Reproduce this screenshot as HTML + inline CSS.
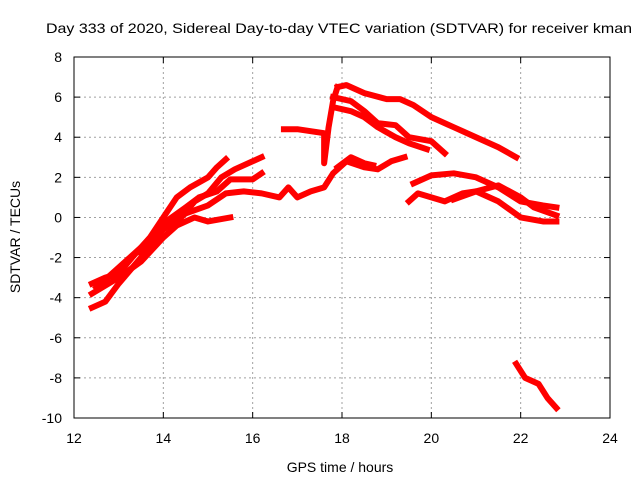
<!DOCTYPE html>
<html><head><meta charset="utf-8"><style>
body{margin:0;background:#fff}
svg text{font-family:"Liberation Sans",sans-serif;font-size:14px;fill:#000}
</style></head><body>
<svg id="c" width="640" height="480" xmlns="http://www.w3.org/2000/svg">
<rect width="640" height="480" fill="#fff"/>
<text x="339" y="33" text-anchor="middle" textLength="586" lengthAdjust="spacingAndGlyphs">Day 333 of 2020, Sidereal Day-to-day VTEC variation (SDTVAR) for receiver kman</text>
<text x="340" y="472" text-anchor="middle">GPS time / hours</text>
<text x="20" y="237" text-anchor="middle" transform="rotate(-90 20 237)">SDTVAR / TECUs</text>
<g id="grid"></g><g id="series"></g><g id="axes"></g>
</svg>
<script>
const xTicks=[12,14,16,18,20,22,24];
const yTicks=[-10,-8,-6,-4,-2,0,2,4,6,8];
const s1=[[12.4,-3.3],[12.7,-3.0],[13.0,-2.8],[13.3,-2.0],[13.7,-1.0],[14.0,0],[14.3,1.0],[14.6,1.5],[15.0,2.0],[15.2,2.5],[15.4,2.9]];
const s2=[[12.4,-4.5],[12.7,-4.2],[13.0,-3.3],[13.5,-2.0],[14.0,-0.5],[14.4,0.0],[14.7,0.8],[15.0,1.2],[15.3,2.0],[15.6,2.4],[16.0,2.8],[16.2,3.0]];
const s3=[[12.5,-3.5],[13.0,-2.5],[13.5,-1.5],[14.0,-0.3],[14.5,0.5],[14.8,1.0],[15.2,1.3],[15.5,1.9],[16.0,1.9],[16.2,2.2]];
const s4=[[12.4,-3.8],[13.0,-3.0],[13.5,-2.2],[14.0,-1.0],[14.3,-0.4],[14.7,0.0],[15.0,-0.2],[15.5,0.0]];
const s5=[[13.5,-1.8],[14.0,-0.6],[14.5,0.2],[15.0,0.6],[15.4,1.2],[15.8,1.3],[16.2,1.2],[16.6,1.0],[16.8,1.5],[17.0,1.0],[17.3,1.3],[17.6,1.5],[17.8,2.2],[18.1,2.8],[18.5,2.5],[18.8,2.4],[19.1,2.8],[19.4,3.0]];
const s5b=[[17.9,2.5],[18.2,3.0],[18.5,2.7],[18.7,2.6]];
const s6=[[16.7,4.4],[17.0,4.4],[17.3,4.3],[17.6,4.2],[17.6,2.7],[17.7,4.5],[17.8,5.8],[17.9,6.5]];
const s7=[[17.9,6.5],[18.1,6.6],[18.5,6.2],[19.0,5.9],[19.3,5.9],[19.6,5.6],[20.0,5.0],[20.5,4.5],[21.0,4.0],[21.5,3.5],[21.9,3.0]];
const s8=[[17.8,6.0],[18.2,5.8],[18.5,5.3],[18.8,4.7],[19.2,4.6],[19.5,4.0],[20.0,3.8],[20.3,3.2]];
const s9=[[17.8,5.5],[18.2,5.3],[18.5,5.0],[18.8,4.5],[19.2,4.0],[19.5,3.7],[19.9,3.4]];
const s10=[[19.6,1.7],[20.0,2.1],[20.5,2.2],[21.0,2.0],[21.5,1.5],[22.0,0.8],[22.5,0.6],[22.8,0.5]];
const s11=[[19.5,0.8],[19.7,1.2],[20.0,1.0],[20.3,0.8],[20.7,1.2],[21.0,1.3],[21.5,1.6],[22.0,1.0],[22.3,0.5],[22.8,0.1]];
const s12=[[20.5,0.9],[21.0,1.3],[21.5,0.8],[22.0,0.0],[22.5,-0.2],[22.8,-0.2]];
const s13=[[21.9,-7.3],[22.1,-8.0],[22.4,-8.3],[22.6,-9.0],[22.8,-9.5]];
const allSeries=[s1,s2,s3,s4,s5,s5b,s6,s7,s8,s9,s10,s11,s12,s13];
const X0=74,X1=610,Y0=418,Y1=57;
const xs=h=>X0+(h-12)/12*(X1-X0);
const ys=v=>Y0-(v+10)/18*(Y0-Y1);
const NS="http://www.w3.org/2000/svg";
const mk=(t,a,p)=>{const e=document.createElementNS(NS,t);for(const k in a)e.setAttribute(k,a[k]);p.appendChild(e);return e;};
const grid=document.getElementById('grid'),axes=document.getElementById('axes'),ser=document.getElementById('series');
xTicks.forEach(t=>{const x=xs(t);
 if(t>12&&t<24){const g=mk('line',{x1:x,x2:x,y1:Y1,y2:Y0,stroke:'#a0a0a0','stroke-dasharray':'2,3'},grid);
 }
 mk('line',{x1:x,x2:x,y1:Y0,y2:Y0-6,stroke:'#000'},axes);mk('line',{x1:x,x2:x,y1:Y1,y2:Y1+6,stroke:'#000'},axes);
 const l=mk('text',{x:x,y:Y0+25,'text-anchor':'middle'},axes);l.textContent=t;
 });
yTicks.forEach(t=>{const y=ys(t);
 if(t>-10&&t<8){const g=mk('line',{x1:X0,x2:X1,y1:y,y2:y,stroke:'#a0a0a0','stroke-dasharray':'2,3'},grid);
 }
 mk('line',{x1:X0,x2:X0+6,y1:y,y2:y,stroke:'#000'},axes);mk('line',{x1:X1,x2:X1-6,y1:y,y2:y,stroke:'#000'},axes);
 const l=mk('text',{x:X0-12,y:y+5,'text-anchor':'end'},axes);l.textContent=t;
 });
const fr=mk('rect',{x:X0,y:Y1,width:X1-X0,height:Y0-Y1,fill:'none',stroke:'#000'},axes);

allSeries.forEach((s,i)=>{
 const p=mk('polyline',{points:s.map(d=>xs(d[0])+','+ys(d[1])).join(' '),fill:'none',stroke:'#ff0000','stroke-width':6,'stroke-linejoin':'round','stroke-linecap':'square'},ser);
 
 
});
</script>
</body></html>
